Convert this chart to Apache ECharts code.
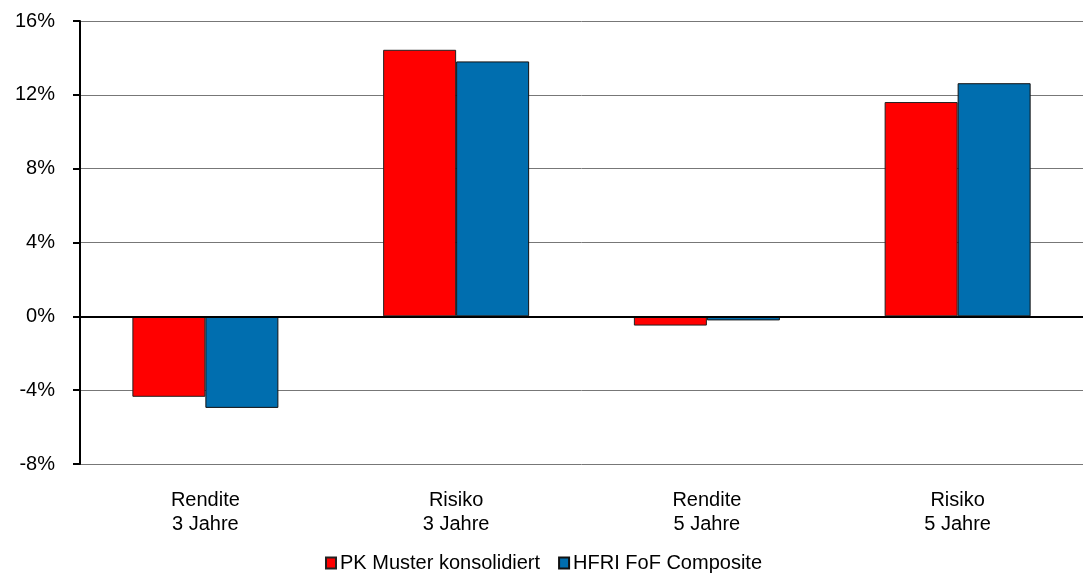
<!DOCTYPE html>
<html><head><meta charset="utf-8">
<script src="https://cdn.jsdelivr.net/npm/echarts@6/dist/echarts.min.js"></script>
<style>html,body{margin:0;padding:0;background:#fff}#c{width:1087px;height:574px}</style>
</head><body><div id="c"></div>
<script>
const categories = ['Rendite\n3 Jahre', 'Risiko\n3 Jahre', 'Rendite\n5 Jahre', 'Risiko\n5 Jahre'];
const seriesNames = ['PK Muster konsolidiert', 'HFRI FoF Composite'];
const pkValues = [-4.36, 14.44, -0.5, 11.61];
const hfriValues = [-4.96, 13.81, -0.22, 12.63];
const yTicks = [-8, -4, 0, 4, 8, 12, 16];

const chart = echarts.init(document.getElementById('c'));
const font = 'Liberation Sans, Arial, sans-serif';
chart.setOption({
  animation: false,
  grid: {left: 80, right: 4, top: 21, bottom: 110, containLabel: false},
  legend: {
    top: 553, left: 'center', padding: 0,
    itemWidth: 10, itemHeight: 11, itemGap: 18,
    textStyle: {fontFamily: font, fontSize: 20, lineHeight: 20, color: '#000', padding: [0,0,0,-1]},
    data: seriesNames.map(n => ({name: n, icon: 'rect'}))
  },
  xAxis: {
    type: 'category', data: categories,
    axisLine: {show: false}, axisTick: {show: false},
    axisLabel: {fontFamily: font, fontSize: 20, color: '#000', lineHeight: 24, margin: 24}
  },
  yAxis: {
    type: 'value', min: yTicks[0], max: yTicks[yTicks.length-1], interval: 4,
    axisLine: {show: true, onZero: false, lineStyle: {color: '#000', width: 2}},
    axisTick: {show: true, length: 7, lineStyle: {color: '#000', width: 2}},
    axisLabel: {fontFamily: font, fontSize: 20, color: '#000', margin: 25, padding: [4,0,0,0], formatter: v => v + '%'},
    splitLine: {show: true, lineStyle: {color: '#777', width: 1}}
  },
  series: [
    {name: seriesNames[0], type: 'bar', data: pkValues, barWidth: 73, barGap: '0%',
     itemStyle: {color: '#FF0000', borderColor: '#222', borderWidth: 1},
     markLine: {silent: true, symbol: 'none', label: {show: false},
       lineStyle: {color: '#000', width: 2, type: 'solid'}, data: [{yAxis: 0}]}},
    {name: seriesNames[1], type: 'bar', data: hfriValues, barWidth: 73,
     itemStyle: {color: '#006EAF', borderColor: '#111', borderWidth: 1}}
  ]
});
</script></body></html>
